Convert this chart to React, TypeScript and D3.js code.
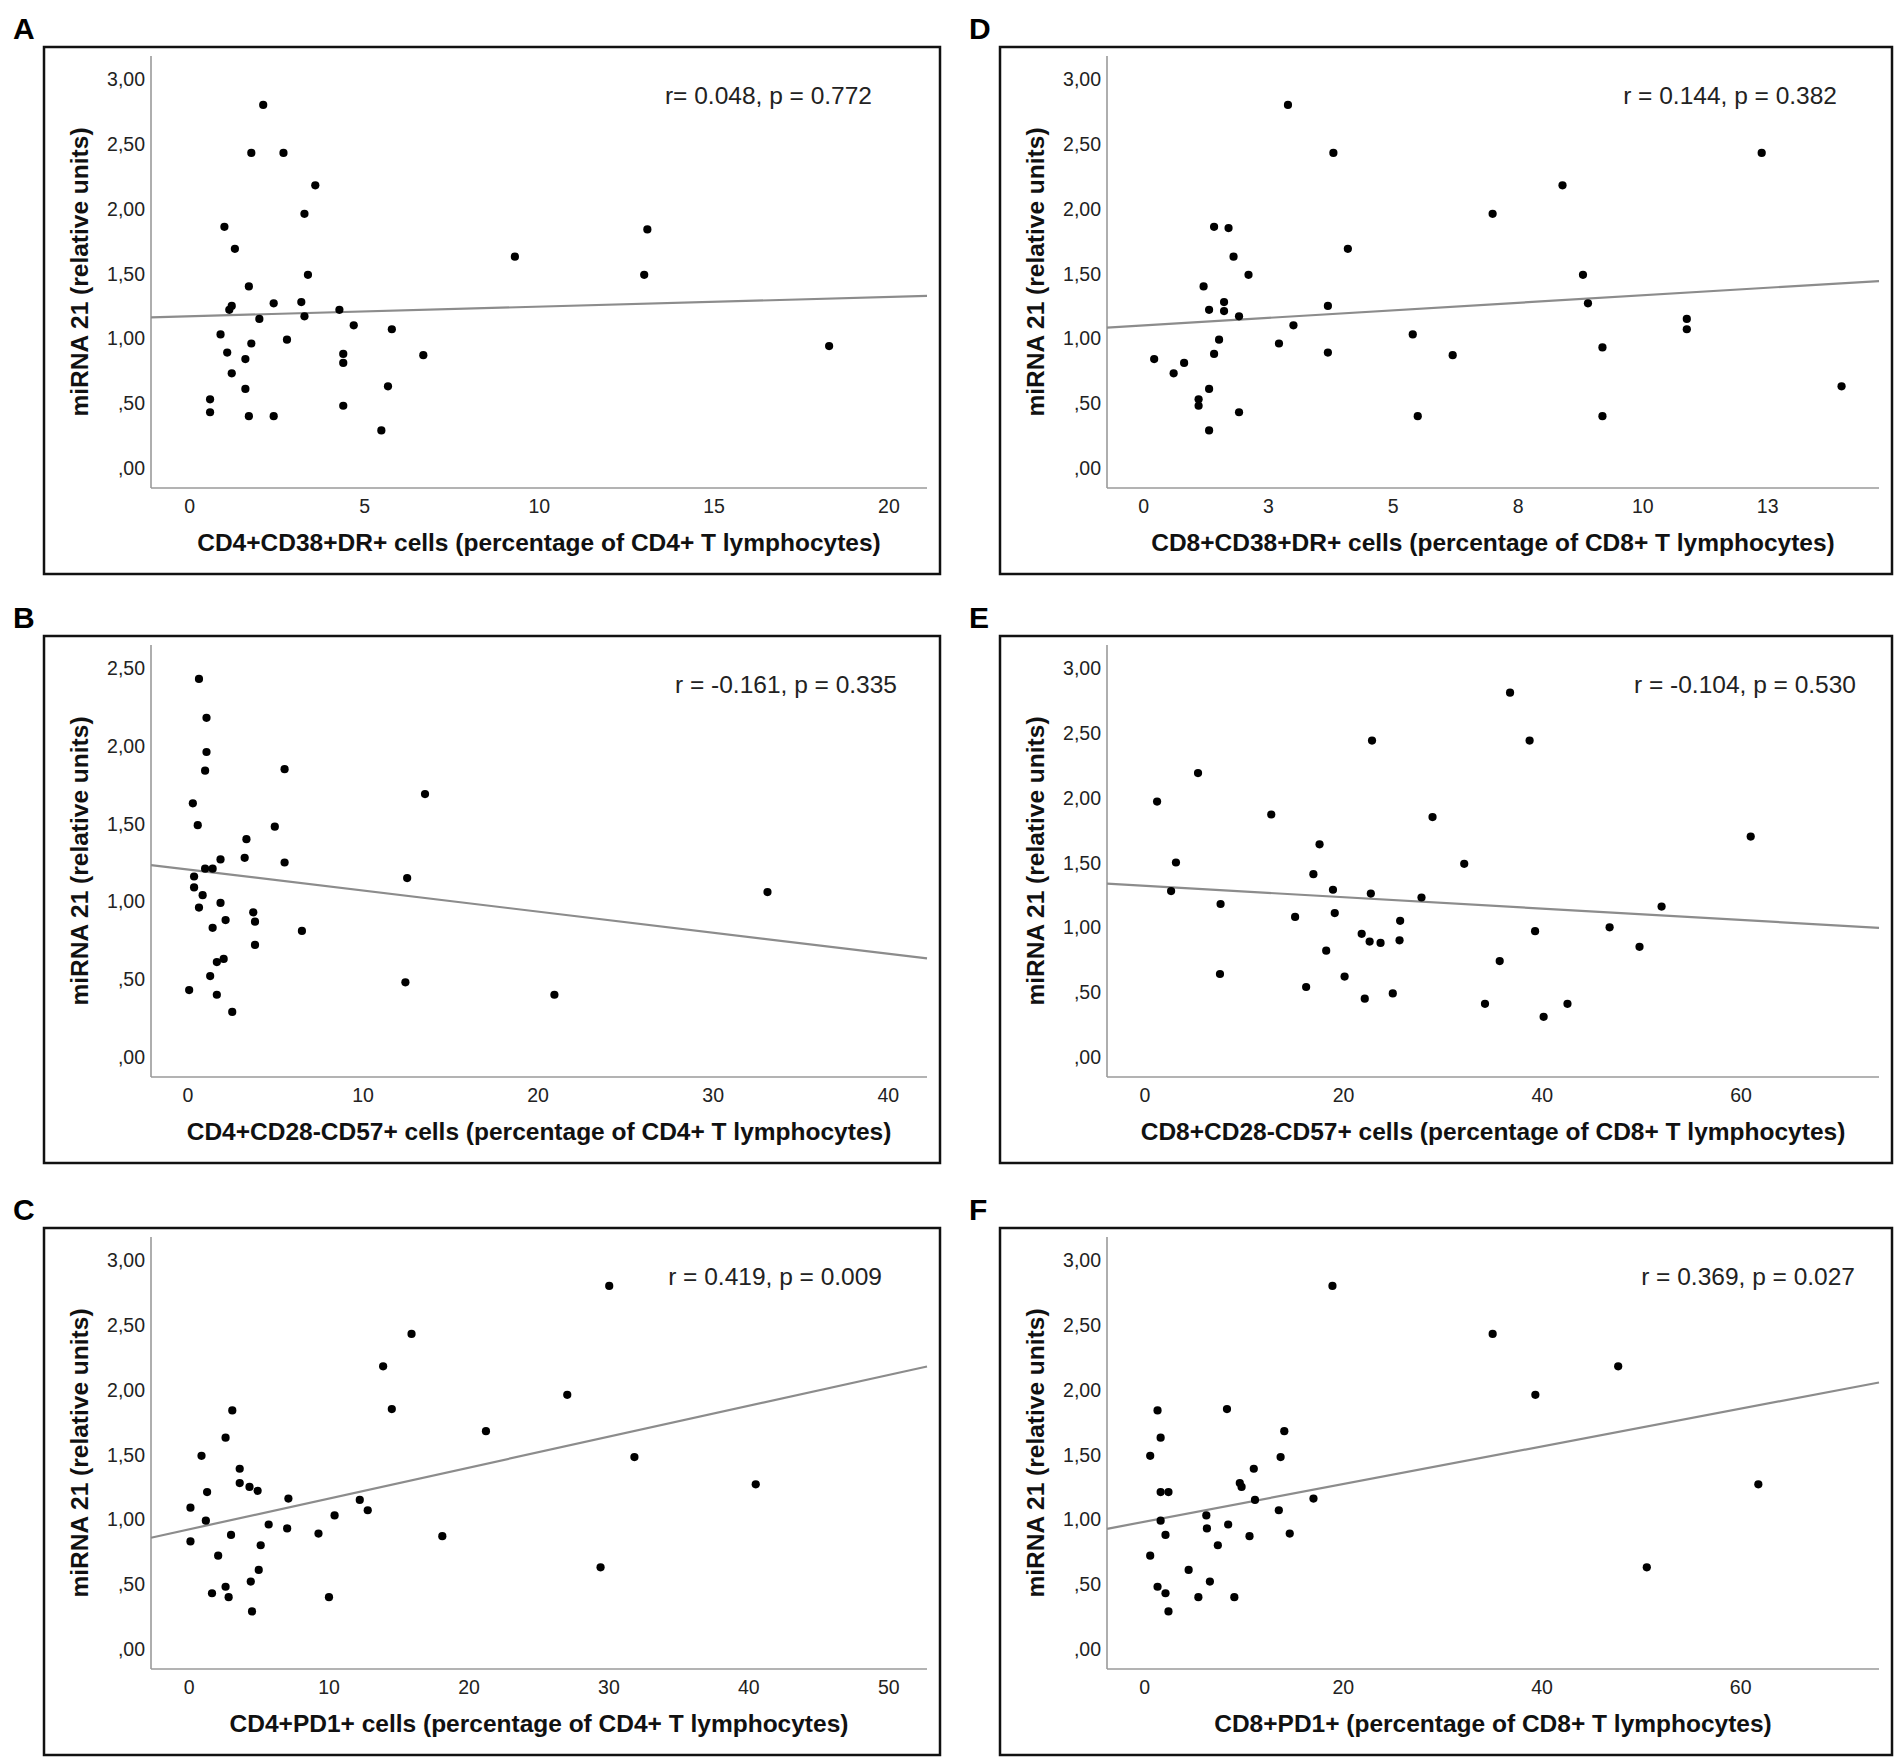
import React, { useRef, useEffect } from "react";
import * as d3 from "d3";

type Pt = [number, number];

// A: CD4+CD38+DR+
const cd4DrPoints: Pt[] = [
  [2.1, 2.8], [1.76, 2.43], [2.68, 2.43], [3.59, 2.18], [3.28, 1.96], [0.99, 1.86],
  [1.29, 1.69], [9.3, 1.63], [13.09, 1.84], [13.0, 1.49], [3.38, 1.49], [1.69, 1.4],
  [2.4, 1.27], [3.19, 1.28], [1.2, 1.25], [1.13, 1.22], [4.28, 1.22], [1.99, 1.15],
  [3.28, 1.17], [4.69, 1.1], [5.78, 1.07], [0.88, 1.03], [2.78, 0.99], [1.76, 0.96],
  [1.07, 0.89], [4.39, 0.88], [6.68, 0.87], [1.59, 0.84], [4.39, 0.81], [18.29, 0.94],
  [1.2, 0.73], [5.67, 0.63], [1.59, 0.61], [0.58, 0.53], [0.58, 0.43], [4.39, 0.48],
  [1.69, 0.4], [2.4, 0.4], [5.48, 0.29],
];

// D: CD8+CD38+DR+
const cd8DrPoints: Pt[] = [
  [2.89, 2.8], [3.8, 2.43], [12.38, 2.43], [8.39, 2.18], [6.99, 1.96], [1.41, 1.86],
  [1.7, 1.85], [4.09, 1.69], [1.8, 1.63], [2.1, 1.49], [8.8, 1.49], [1.2, 1.4],
  [1.61, 1.28], [8.9, 1.27], [3.69, 1.25], [1.31, 1.22], [1.61, 1.21], [1.91, 1.17],
  [10.88, 1.15], [10.88, 1.07], [3.0, 1.1], [5.39, 1.03], [1.51, 0.99], [2.71, 0.96],
  [9.19, 0.93], [1.41, 0.88], [3.69, 0.89], [6.19, 0.87], [0.21, 0.84], [0.81, 0.81],
  [0.6, 0.73], [13.98, 0.63], [1.31, 0.61], [1.1, 0.53], [1.1, 0.48], [1.91, 0.43],
  [5.49, 0.4], [9.19, 0.4], [1.31, 0.29],
];

// B: CD4+CD28-CD57+
const cd4SenPoints: Pt[] = [
  [0.63, 2.43], [1.06, 2.18], [1.06, 1.96], [0.98, 1.84], [5.52, 1.85], [13.54, 1.69],
  [0.28, 1.63], [0.56, 1.49], [4.96, 1.48], [3.34, 1.4], [3.24, 1.28], [1.86, 1.27],
  [5.52, 1.25], [0.98, 1.21], [1.41, 1.21], [0.35, 1.16], [12.52, 1.15], [0.35, 1.09],
  [33.1, 1.06], [0.84, 1.04], [1.86, 0.99], [0.63, 0.96], [3.73, 0.93], [2.15, 0.88],
  [3.83, 0.87], [1.41, 0.83], [6.51, 0.81], [3.83, 0.72], [2.04, 0.63], [1.65, 0.61],
  [1.27, 0.52], [12.42, 0.48], [0.07, 0.43], [1.65, 0.4], [20.93, 0.4], [2.53, 0.29],
];

// E: CD8+CD28-CD57+
const cd8SenPoints: Pt[] = [
  [36.75, 2.81], [22.86, 2.44], [38.72, 2.44], [5.35, 2.19], [1.23, 1.97], [12.72, 1.87],
  [28.95, 1.85], [17.58, 1.64], [60.97, 1.7], [3.13, 1.5], [32.14, 1.49], [16.96, 1.41],
  [18.93, 1.29], [2.64, 1.28], [22.74, 1.26], [27.84, 1.23], [7.62, 1.18], [52.0, 1.16],
  [19.11, 1.11], [15.12, 1.08], [25.69, 1.05], [46.77, 1.0], [39.27, 0.97], [21.82, 0.95],
  [22.62, 0.89], [23.72, 0.88], [25.63, 0.9], [49.78, 0.85], [18.25, 0.82], [35.71, 0.74],
  [7.56, 0.64], [20.1, 0.62], [16.23, 0.54], [24.95, 0.49], [22.13, 0.45], [34.23, 0.41],
  [42.53, 0.41], [40.13, 0.31],
];

// C: CD4+PD1+
const cd4PdPoints: Pt[] = [
  [30.02, 2.8], [15.89, 2.43], [13.86, 2.18], [27.02, 1.96], [3.08, 1.84], [14.48, 1.85],
  [21.21, 1.68], [2.6, 1.63], [0.88, 1.49], [31.82, 1.48], [3.61, 1.39], [3.61, 1.28],
  [4.31, 1.25], [4.89, 1.22], [40.49, 1.27], [1.28, 1.21], [7.09, 1.16], [12.19, 1.15],
  [12.76, 1.07], [0.09, 1.09], [10.39, 1.03], [1.19, 0.99], [5.68, 0.96], [7.0, 0.93],
  [9.24, 0.89], [2.99, 0.88], [18.09, 0.87], [0.09, 0.83], [5.11, 0.8], [2.07, 0.72],
  [4.97, 0.61], [29.4, 0.63], [4.4, 0.52], [2.6, 0.48], [1.63, 0.43], [2.82, 0.4],
  [9.99, 0.4], [4.49, 0.29],
];

// F: CD8+PD1+
const cd8PdPoints: Pt[] = [
  [18.9, 2.8], [35.03, 2.43], [47.67, 2.18], [39.33, 1.96], [1.29, 1.84], [8.28, 1.85],
  [14.05, 1.68], [1.6, 1.63], [0.55, 1.49], [13.68, 1.48], [10.98, 1.39], [9.57, 1.28],
  [9.75, 1.25], [61.78, 1.27], [1.6, 1.21], [2.39, 1.21], [16.99, 1.16], [11.1, 1.15],
  [13.5, 1.07], [6.2, 1.03], [1.6, 0.99], [6.26, 0.93], [8.4, 0.96], [14.6, 0.89],
  [2.09, 0.88], [10.55, 0.87], [7.36, 0.8], [0.55, 0.72], [50.55, 0.63], [4.42, 0.61],
  [6.56, 0.52], [1.29, 0.48], [2.09, 0.43], [5.4, 0.4], [9.02, 0.4], [2.39, 0.29],
];

// fitted lines: [intercept, slope]
const fitLines: Pt[] = [
  [1.17, 0.00743],
  [1.205, -0.01354],
  [0.923, 0.02382],
  [1.1, 0.0232],
  [1.32, -0.00439],
  [0.982, 0.01452],
];

const panelLetters = ["A", "B", "C", "D", "E", "F"];

const statLabels = [
  "r= 0.048, p = 0.772",
  "r = -0.161, p = 0.335",
  "r = 0.419, p = 0.009",
  "r = 0.144, p = 0.382",
  "r = -0.104, p = 0.530",
  "r = 0.369, p = 0.027",
];

const xTitles = [
  "CD4+CD38+DR+ cells (percentage of CD4+ T lymphocytes)",
  "CD4+CD28-CD57+ cells (percentage of CD4+ T lymphocytes)",
  "CD4+PD1+ cells (percentage of CD4+ T lymphocytes)",
  "CD8+CD38+DR+ cells (percentage of CD8+ T lymphocytes)",
  "CD8+CD28-CD57+ cells (percentage of CD8+ T lymphocytes)",
  "CD8+PD1+ (percentage of CD8+ T lymphocytes)",
];

const yTitle = "miRNA 21 (relative units)";

const xDomains: Pt[] = [
  [-1.11, 21.09],
  [-2.11, 42.21],
  [-2.73, 52.73],
  [-0.735, 14.73],
  [-3.81, 73.88],
  [-3.8, 73.93],
];

const xTickValues: number[][] = [
  [0, 5, 10, 15, 20],
  [0, 10, 20, 30, 40],
  [0, 10, 20, 30, 40, 50],
  [0, 2.5, 5, 7.5, 10, 12.5],
  [0, 20, 40, 60],
  [0, 20, 40, 60],
];

// SPSS rounds the 2.5-step labels to whole numbers
const xTickLabelsD = ["0", "3", "5", "8", "10", "13"];

const yMaxTicks = [3, 2.5, 3, 3, 3, 3];

const allPoints = [cd4DrPoints, cd4SenPoints, cd4PdPoints, cd8DrPoints, cd8SenPoints, cd8PdPoints];

// layout
const colX = [44, 1000];
const colW = [896, 892];
const rowY = [47, 636, 1228];
const boxH = 527;
const noteRight = [-68, -43, -58, -55, -36, -37];

const fmtY = (v: number) => {
  const s = v.toFixed(2).replace(".", ",");
  return s.startsWith("0") ? s.slice(1) : s;
};

function App() {
  const svgRef = useRef<SVGSVGElement>(null);

  useEffect(() => {
    if (!svgRef.current) return;
    const svg = d3.select(svgRef.current);
    svg.selectAll("*").remove();

    svg.append("rect").attr("width", 1904).attr("height", 1762).attr("fill", "#fff");

    allPoints.forEach((points, i) => {
      const col = Math.floor(i / 3);
      const row = i % 3;
      const bx = colX[col];
      const bw = colW[col];
      const by = rowY[row];
      const g = svg.append("g");

      const plotL = bx + 107;
      const plotR = bx + bw - 13;
      const plotT = by + 9;
      const plotB = by + 441;
      const yMax = yMaxTicks[i];
      const zeroY = by + 421;
      const topTickY = by + 32;

      const x = d3.scaleLinear().domain(xDomains[i]).range([plotL, plotR]);
      const y = d3.scaleLinear().domain([0, yMax]).range([zeroY, topTickY]);

      g.append("text")
        .attr("x", bx - 31)
        .attr("y", by - 8)
        .attr("font-family", "Liberation Sans, Arial, sans-serif")
        .attr("font-weight", "bold")
        .attr("font-size", 30)
        .text(panelLetters[i]);

      g.append("rect")
        .attr("x", bx)
        .attr("y", by)
        .attr("width", bw)
        .attr("height", boxH)
        .attr("fill", "none")
        .attr("stroke", "#111")
        .attr("stroke-width", 2.5);

      // axes
      g.append("line")
        .attr("x1", plotL).attr("x2", plotL)
        .attr("y1", plotT).attr("y2", plotB)
        .attr("stroke", "#9a9a9a").attr("stroke-width", 1.6);
      g.append("line")
        .attr("x1", plotL).attr("x2", plotR)
        .attr("y1", plotB).attr("y2", plotB)
        .attr("stroke", "#9a9a9a").attr("stroke-width", 1.6);

      const yTicks = d3.range(0, yMax + 0.001, 0.5);
      g.selectAll(".yt")
        .data(yTicks)
        .join("text")
        .attr("x", plotL - 6)
        .attr("y", (d) => y(d))
        .attr("dy", "0.36em")
        .attr("text-anchor", "end")
        .attr("font-family", "Liberation Sans, Arial, sans-serif")
        .attr("font-size", 19.5)
        .attr("fill", "#222")
        .text((d) => fmtY(d));

      const xt = xTickValues[i];
      g.selectAll(".xt")
        .data(xt)
        .join("text")
        .attr("x", (d) => x(d))
        .attr("y", by + 466)
        .attr("text-anchor", "middle")
        .attr("font-family", "Liberation Sans, Arial, sans-serif")
        .attr("font-size", 19.5)
        .attr("fill", "#222")
        .text((d, j) => (i === 3 ? xTickLabelsD[j] : String(d)));

      g.append("text")
        .attr("x", (plotL + plotR) / 2)
        .attr("y", by + 504)
        .attr("text-anchor", "middle")
        .attr("font-family", "Liberation Sans, Arial, sans-serif")
        .attr("font-weight", "bold")
        .attr("font-size", 24.5)
        .attr("fill", "#111")
        .text(xTitles[i]);

      g.append("text")
        .attr("transform", `translate(${bx + 44},${(plotT + plotB) / 2}) rotate(-90)`)
        .attr("text-anchor", "middle")
        .attr("font-family", "Liberation Sans, Arial, sans-serif")
        .attr("font-weight", "bold")
        .attr("font-size", 24.5)
        .attr("fill", "#111")
        .text(yTitle);

      // fit line
      const [b0, b1] = fitLines[i];
      const [x0, x1] = xDomains[i];
      g.append("line")
        .attr("x1", x(x0)).attr("y1", y(b0 + b1 * x0))
        .attr("x2", x(x1)).attr("y2", y(b0 + b1 * x1))
        .attr("stroke", "#8c8c8c")
        .attr("stroke-width", 2.2);

      g.selectAll(".pt")
        .data(points)
        .join("circle")
        .attr("cx", (d) => x(d[0]))
        .attr("cy", (d) => y(d[1]))
        .attr("r", 4.1)
        .attr("fill", "#000");

      g.append("text")
        .attr("x", bx + bw + noteRight[i])
        .attr("y", by + 57)
        .attr("text-anchor", "end")
        .attr("font-family", "Liberation Sans, Arial, sans-serif")
        .attr("font-size", 24.5)
        .attr("fill", "#222")
        .text(statLabels[i]);
    });
  }, []);

  return (
    <div style={{ position: "absolute", left: 0, top: 0 }}>
      <svg ref={svgRef} width={1904} height={1762} style={{ display: "block" }} />
    </div>
  );
}

export default App;
